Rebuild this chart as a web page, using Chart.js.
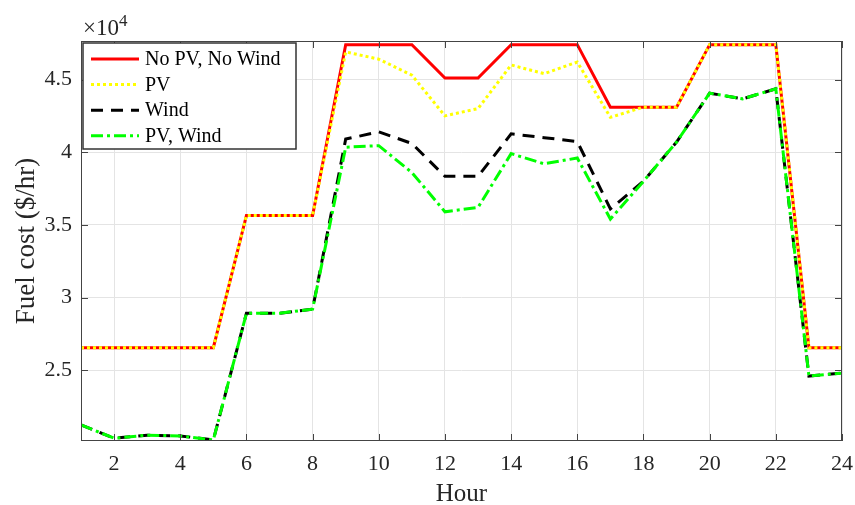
<!DOCTYPE html>
<html>
<head>
<meta charset="utf-8">
<script src="https://cdn.jsdelivr.net/npm/chart.js@4.4.1/dist/chart.umd.min.js"></script>
<style>
html, body { margin: 0; padding: 0; background: #fff; }
</style>
</head>
<body>
<canvas id="fuelChart" width="855" height="505"></canvas>
<script>
// fuel cost per hour, in units of 10^4 $/hr
var hours = [1, 2, 3, 4, 5, 6, 7, 8, 9, 10, 11, 12, 13, 14, 15, 16, 17, 18, 19, 20, 21, 22, 23, 24];
var noPvNoWind = [2.655, 2.655, 2.655, 2.655, 2.655, 3.565, 3.565, 3.565, 4.74, 4.74, 4.74, 4.51, 4.51, 4.74, 4.74, 4.74, 4.31, 4.31, 4.31, 4.74, 4.74, 4.74, 2.655, 2.655];
var pvOnly = [2.655, 2.655, 2.655, 2.655, 2.655, 3.565, 3.565, 3.565, 4.69, 4.64, 4.53, 4.25, 4.30, 4.60, 4.54, 4.62, 4.24, 4.31, 4.31, 4.74, 4.74, 4.74, 2.655, 2.655];
var windOnly = [2.124, 2.032, 2.053, 2.048, 2.02, 2.892, 2.892, 2.92, 4.09, 4.14, 4.06, 3.834, 3.834, 4.126, 4.10, 4.073, 3.61, 3.80, 4.07, 4.406, 4.367, 4.436, 2.46, 2.48];
var pvWind = [2.124, 2.032, 2.053, 2.048, 2.02, 2.892, 2.892, 2.92, 4.034, 4.045, 3.86, 3.59, 3.62, 3.99, 3.92, 3.96, 3.54, 3.80, 4.07, 4.406, 4.367, 4.436, 2.46, 2.48];

var xTicks = [2, 4, 6, 8, 10, 12, 14, 16, 18, 20, 22, 24];
var yTicks = [2.5, 3, 3.5, 4, 4.5];
var seriesNames = ['No PV, No Wind', 'PV', 'Wind', 'PV, Wind'];

var serif = '"Liberation Serif", "Times New Roman", serif';
var inkColor = '#262626';

var framePlugin = {
  id: 'frame',
  afterDatasetsDraw: function (chart) {
    var ctx = chart.ctx, a = chart.chartArea;
    var xs = chart.scales.x, ys = chart.scales.y;
    ctx.save();
    ctx.strokeStyle = '#444444';
    ctx.lineWidth = 1;
    ctx.setLineDash([]);
    ctx.strokeRect(a.left + 0.5, a.top + 0.5, a.right - a.left - 1, a.bottom - a.top - 1);
    ctx.beginPath();
    xTicks.forEach(function (v) {
      var px = Math.round(xs.getPixelForValue(v)) + 0.5;
      ctx.moveTo(px, a.bottom); ctx.lineTo(px, a.bottom - 7);
      ctx.moveTo(px, a.top); ctx.lineTo(px, a.top + 7);
    });
    yTicks.forEach(function (v) {
      var py = Math.round(ys.getPixelForValue(v)) + 0.5;
      ctx.moveTo(a.left, py); ctx.lineTo(a.left + 7, py);
      ctx.moveTo(a.right, py); ctx.lineTo(a.right - 7, py);
    });
    ctx.stroke();

    // exponent label
    ctx.fillStyle = inkColor;
    ctx.textBaseline = 'alphabetic';
    ctx.font = '23px ' + serif;
    ctx.fillText('\u00d710', a.left + 2, 35);
    var w = ctx.measureText('\u00d710').width;
    ctx.font = '17px ' + serif;
    ctx.fillText('4', a.left + 2 + w, 26);
    ctx.restore();
  },
  afterDraw: function (chart) {
    var ctx = chart.ctx, a = chart.chartArea;
    var bx = a.left + 2, by = a.top + 2;
    ctx.save();
    ctx.fillStyle = '#ffffff';
    ctx.fillRect(bx, by, 213, 106);
    ctx.strokeStyle = '#333333';
    ctx.lineWidth = 1.5;
    ctx.setLineDash([]);
    ctx.strokeRect(bx, by, 213, 106);
    ctx.font = '20px ' + serif;
    ctx.textBaseline = 'middle';
    chart.data.datasets.forEach(function (ds, i) {
      var yy = by + 16 + i * 25.6;
      ctx.strokeStyle = ds.borderColor;
      ctx.lineWidth = ds.borderWidth;
      ctx.setLineDash(ds.borderDash || []);
      ctx.beginPath();
      ctx.moveTo(bx + 8, yy);
      ctx.lineTo(bx + 56, yy);
      ctx.stroke();
      ctx.fillStyle = '#000000';
      ctx.fillText(ds.label, bx + 62, yy + 1);
    });
    ctx.restore();
  }
};

var ctx = document.getElementById('fuelChart');
var fuelChart = new Chart(ctx, {
  type: 'line',
  data: {
    labels: hours,
    datasets: [{
      label: seriesNames[0],
      data: noPvNoWind,
      borderColor: '#ff0000',
      borderWidth: 3,
      order: 4
    }, {
      label: seriesNames[1],
      data: pvOnly,
      borderColor: '#ffff00',
      borderWidth: 3,
      borderDash: [3, 3],
      order: 3
    }, {
      label: seriesNames[2],
      data: windOnly,
      borderColor: '#000000',
      borderWidth: 3,
      borderDash: [12, 8],
      order: 2
    }, {
      label: seriesNames[3],
      data: pvWind,
      borderColor: '#00ff00',
      borderWidth: 3,
      borderDash: [12, 4, 3, 4],
      order: 1
    }]
  },
  options: {
    responsive: false,
    animation: false,
    layout: { padding: { top: 41, right: 13, left: 0, bottom: 0 } },
    elements: {
      point: { radius: 0 },
      line: { tension: 0, fill: false }
    },
    plugins: {
      legend: { display: false },
      tooltip: { enabled: false }
    },
    scales: {
      x: {
        type: 'linear',
        min: 1,
        max: 24,
        afterBuildTicks: function (scale) {
          scale.ticks = xTicks.map(function (v) { return { value: v }; });
        },
        afterFit: function (scale) {
          scale.height = 64;
          scale.paddingLeft = 0;
          scale.paddingRight = 0;
        },
        grid: { color: '#e4e4e4', drawTicks: false },
        border: { display: false },
        ticks: {
          padding: 10,
          maxRotation: 0,
          color: inkColor,
          font: { family: serif, size: 22 },
          callback: function (v) { return String(v); }
        },
        title: {
          display: true,
          text: 'Hour',
          color: inkColor,
          font: { family: serif, size: 25, lineHeight: 1 },
          padding: { top: 0, bottom: -2 }
        }
      },
      y: {
        min: 2.013,
        max: 4.765,
        afterBuildTicks: function (scale) {
          scale.ticks = yTicks.map(function (v) { return { value: v }; });
        },
        afterFit: function (scale) {
          scale.width = 81;
          scale.paddingTop = 0;
          scale.paddingBottom = 0;
        },
        grid: { color: '#e4e4e4', drawTicks: false },
        border: { display: false },
        ticks: {
          padding: 9,
          color: inkColor,
          font: { family: serif, size: 22 },
          callback: function (v) { return String(v); }
        },
        title: {
          display: true,
          text: 'Fuel cost ($/hr)',
          color: inkColor,
          font: { family: serif, size: 27, lineHeight: 1 },
          padding: { top: 13, bottom: 0 }
        }
      }
    }
  },
  plugins: [framePlugin]
});
</script>
</body>
</html>
